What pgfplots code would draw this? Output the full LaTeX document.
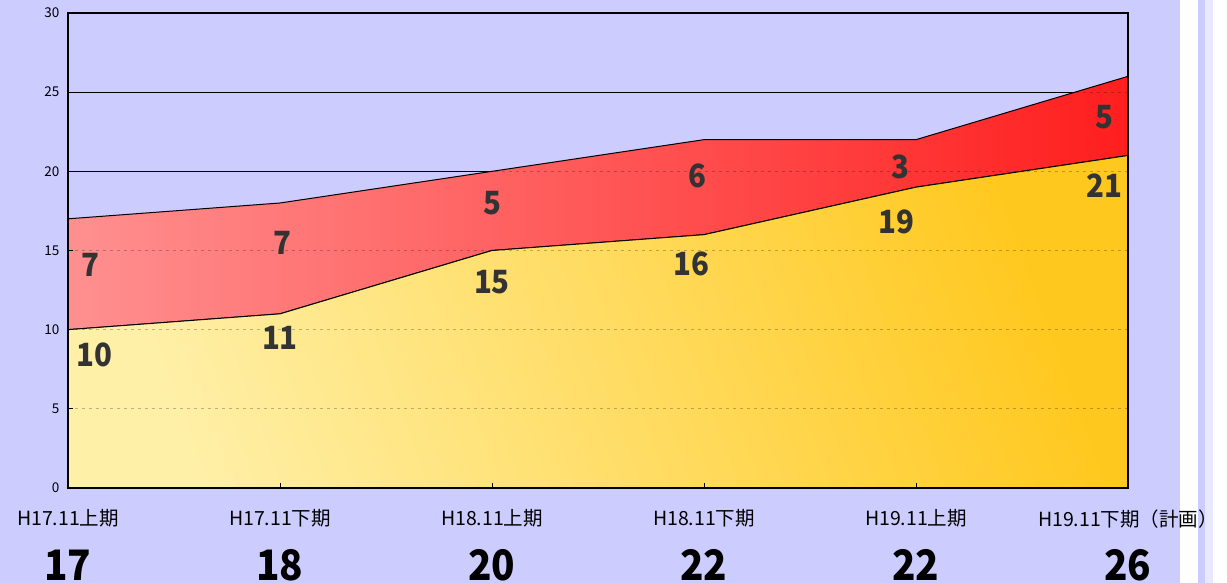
\documentclass[border=0pt]{standalone}
\usepackage{pgfplots}
\pgfplotsset{compat=1.18}
\usetikzlibrary{arrows.meta}
\usepackage{fontspec}
\setmainfont{Noto Sans CJK JP}
\newfontfamily\numfont[FakeStretch=0.92]{Noto Sans CJK JP}
\definecolor{lav}{HTML}{CCCCFF}
\definecolor{lavlt}{HTML}{E8E8FF}
\definecolor{ylt}{HTML}{FFF0A8}
\definecolor{ydk}{HTML}{FFC81E}
\definecolor{rlt}{HTML}{FF9090}
\definecolor{rdk}{HTML}{FF1E1E}
\definecolor{lbl}{HTML}{333333}
\begin{document}
\begin{tikzpicture}
% page and background strips (1pt = 1px of the reference)
\useasboundingbox (-68pt,-95pt) rectangle (1159pt,13pt+475pt);
\fill[lav] (-68pt,-95pt) rectangle (1112pt,488pt);
\fill[lav] (1130pt,-95pt) rectangle (1137pt,488pt);
\fill[lavlt] (1137pt,-95pt) rectangle (1145pt,488pt);

% solid grid behind the areas
\begin{axis}[
    scale only axis, width=1060pt, height=475pt,
    xmin=0, xmax=5, ymin=0, ymax=30,
    ytick={0,5,...,30}, xtick=\empty,
    yticklabels={}, ymajorgrids=true,
    grid style={black, line width=0.8pt},
    axis line style={draw=none}, tick style={draw=none},
]
\end{axis}

\begin{axis}[
    scale only axis, width=1060pt, height=475pt,
    xmin=0, xmax=5, ymin=0, ymax=30,
    axis on top, clip=false,
    stack plots=y,
    ytick={0,5,...,30},
    xtick={0,...,5},
    xticklabels={H17.11上期, H17.11下期, H18.11上期, H18.11下期, H19.11上期, H19.11下期（計画）},
    tick pos=left, tick align=inside, major tick length=5pt,
    tick style={black, line width=0.8pt},
    axis line style={black, line width=1.2pt},
    ymajorgrids=true,
    grid style={black, opacity=0.25, line width=0.7pt, dash pattern=on 3pt off 4pt},
    /pgf/number format/assume math mode=true,
    yticklabel style={font=\fontsize{13.5}{13.5}\selectfont, xshift=-5pt},
    xticklabel style={font=\fontsize{19.5}{19.5}\selectfont, yshift=-18pt},
]
\addplot[draw=black, line width=1pt, left color=ylt, right color=ydk, shading angle=110]
    coordinates {(0,10) (1,11) (2,15) (3,16) (4,19) (5,21)} \closedcycle;
\addplot[draw=black, line width=1pt, left color=rlt, right color=rdk]
    coordinates {(0,7) (1,7) (2,5) (3,6) (4,3) (5,5)} \closedcycle;

% value labels
\addplot[stack plots=false, draw=none, mark=none, point meta=explicit symbolic,
    nodes near coords,
    every node near coord/.append style={anchor=center, text=lbl,
        font=\numfont\bfseries\fontsize{32}{32}\selectfont}]
    coordinates {
    (0.104,14.1) [7] (0.127,8.4) [10]
    (1.014,15.5) [7] (1.0,9.5) [11]
    (2.0,18.0) [5] (2.0,13.0) [15]
    (2.967,19.7) [6] (2.943,14.15) [16]
    (3.925,20.3) [3] (3.91,16.8) [19]
    (4.887,23.4) [5] (4.887,19.1) [21]
    };

% totals below the categories
\addplot[stack plots=false, draw=none, mark=none, point meta=explicit symbolic,
    nodes near coords,
    every node near coord/.append style={anchor=center, text=black,
        font=\numfont\bfseries\fontsize{42}{42}\selectfont}]
    coordinates {(0,-4.85) [17] (1,-4.85) [18] (2,-4.85) [20] (3,-4.85) [22] (4,-4.85) [22] (5,-4.85) [26]};

\draw[red, line width=3pt, -{Straight Barb[length=14pt, width=26pt, line width=3pt]}]
    (axis cs:2.604,9.09) -- (axis cs:4.868,16.17);
\end{axis}
\end{tikzpicture}
\end{document}
